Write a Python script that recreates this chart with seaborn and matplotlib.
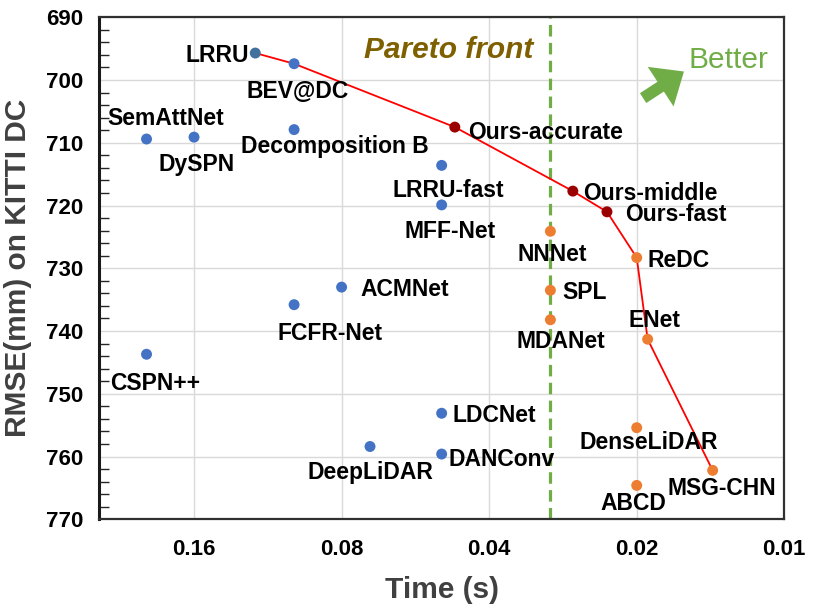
import matplotlib
matplotlib.use('Agg')
import pandas as pd
import matplotlib.pyplot as plt
import seaborn as sns
from matplotlib.ticker import MultipleLocator, NullLocator, FixedLocator

# DATA
prior_names = ['LRRU', 'BEV@DC', 'SemAttNet', 'DySPN', 'Decomposition B', 'ACMNet', 'FCFR-Net',
               'CSPN++', 'DeepLiDAR', 'LRRU-fast', 'MFF-Net', 'LDCNet', 'DANConv']
prior_time = [0.12, 0.10, 0.20, 0.16, 0.10, 0.08, 0.10, 0.20, 0.07, 0.05, 0.05, 0.05, 0.05]
prior_rmse = [695.7, 697.4, 709.4, 709.1, 707.9, 733.0, 735.8, 743.7, 758.4, 713.6, 719.9, 753.1, 759.6]

fast_names = ['NNNet', 'SPL', 'MDANet', 'ReDC', 'ENet', 'DenseLiDAR', 'ABCD', 'MSG-CHN']
fast_time = [0.03, 0.03, 0.03, 0.02, 0.019, 0.02, 0.02, 0.014]
fast_rmse = [724.1, 733.5, 738.2, 728.3, 741.3, 755.4, 764.6, 762.2]

ours_names = ['Ours-accurate', 'Ours-middle', 'Ours-fast']
ours_time = [0.047, 0.027, 0.023]
ours_rmse = [707.5, 717.7, 721.0]

pareto = ['LRRU', 'BEV@DC', 'Ours-accurate', 'Ours-middle', 'Ours-fast', 'ReDC', 'ENet', 'MSG-CHN']

x_ticks = [0.16, 0.08, 0.04, 0.02, 0.01]
x_ticklabels = ['0.16', '0.08', '0.04', '0.02', '0.01']
realtime_limit = 0.03

# label placement: (dx, dy) in pixels, horizontal alignment
label_pos = {
    'LRRU': (-6, 0, 'right'), 'BEV@DC': (4, -25, 'center'), 'SemAttNet': (19, 23, 'center'),
    'DySPN': (3, -25, 'center'), 'Decomposition B': (41, -14, 'center'), 'ACMNet': (19, 0, 'left'),
    'FCFR-Net': (36, -26, 'center'), 'CSPN++': (9, -27, 'center'), 'DeepLiDAR': (0, -23, 'center'),
    'LRRU-fast': (7, -23, 'center'), 'MFF-Net': (8, -24, 'center'), 'LDCNet': (11, 0, 'left'),
    'DANConv': (7, -3, 'left'), 'NNNet': (2, -21, 'center'), 'SPL': (12, 0, 'left'),
    'MDANet': (10, -19, 'center'), 'ReDC': (11, 0, 'left'), 'ENet': (7, 21, 'center'),
    'DenseLiDAR': (12, -12, 'center'), 'ABCD': (-3, -16, 'center'), 'MSG-CHN': (9, -16, 'center'),
    'Ours-accurate': (13, -3, 'left'), 'Ours-middle': (10, 0, 'left'), 'Ours-fast': (18, 0, 'left'),
}

df = pd.concat([
    pd.DataFrame({'name': prior_names, 'time': prior_time, 'rmse': prior_rmse, 'group': 'prior'}),
    pd.DataFrame({'name': fast_names, 'time': fast_time, 'rmse': fast_rmse, 'group': 'fast'}),
    pd.DataFrame({'name': ours_names, 'time': ours_time, 'rmse': ours_rmse, 'group': 'ours'}),
], ignore_index=True)
df.loc[df.name == 'LRRU', 'group'] = 'lrru'
front = df.set_index('name').loc[pareto].reset_index()

# STYLING
sns.set_theme(style='whitegrid')
plt.rcParams['font.family'] = ['Liberation Sans', 'DejaVu Sans']
plt.rcParams['font.weight'] = 'bold'

fig = plt.figure(figsize=(8.15, 6.15), dpi=100)
ax = fig.add_axes([0.1215, 0.1556, 0.8408, 0.8163])

sns.lineplot(data=front, x='time', y='rmse', sort=False, estimator=None, color='#FF0000',
             linewidth=1.3, ax=ax, zorder=2)
sns.scatterplot(data=df, x='time', y='rmse', hue='group',
                palette={'prior': '#4472C4', 'lrru': '#41719C', 'fast': '#ED7D31', 'ours': '#9B0000'},
                s=62, linewidth=0, legend=False, ax=ax, zorder=3)

for _, r in df.iterrows():
    dx, dy, ha = label_pos[r['name']]
    ax.annotate(r['name'], (r['time'], r['rmse']), xytext=(dx, dy), textcoords='offset pixels',
                ha=ha, va='center_baseline', fontsize=16.5, fontweight='bold', color='black', zorder=4)

ax.axvline(realtime_limit, color='#70AD47', linewidth=2.3, linestyle=(0, (3.6, 2.0)), zorder=1.5)

ax.set_xscale('log', base=2)
ax.set_xlim(0.25, 0.01)
ax.set_ylim(770, 690)
ax.xaxis.set_major_locator(FixedLocator(x_ticks))
ax.set_xticklabels(x_ticklabels)
ax.xaxis.set_minor_locator(NullLocator())
ax.yaxis.set_major_locator(MultipleLocator(10))
ax.yaxis.set_minor_locator(MultipleLocator(2))

ax.grid(True, which='major', color='#D9D9D9', linewidth=1.0)
ax.set_axisbelow(True)
ax.tick_params(axis='both', which='major', direction='in', labelsize=16, length=7, width=1.3,
               color='#262626', labelcolor='black')
ax.tick_params(axis='x', pad=14, length=9)
ax.tick_params(axis='y', pad=11)
ax.tick_params(axis='y', which='minor', direction='in', length=7, width=1.0, color='#262626', left=True)
for lbl in ax.get_xticklabels() + ax.get_yticklabels():
    lbl.set_fontweight('bold')

for side in ['top', 'right', 'bottom']:
    ax.spines[side].set_color('#303030')
    ax.spines[side].set_linewidth(1.6)
ax.spines['left'].set_color('#1a1a1a')
ax.spines['left'].set_linewidth(2.2)

ax.set_xlabel('Time (s)', fontsize=21.5, fontweight='bold', color='#404040', labelpad=12)
ax.set_ylabel('RMSE(mm) on KITTI DC', fontsize=21.5, fontweight='bold', color='#404040', labelpad=10)

ax.text(0.511, 0.941, 'Pareto front', transform=ax.transAxes, ha='center', va='center_baseline',
        fontsize=21.5, fontweight='bold', fontstyle='italic', color='#7F6000')
ax.text(0.918, 0.921, 'Better', transform=ax.transAxes, ha='center', va='center_baseline',
        fontsize=21.5, fontweight='normal', color='#70AD47')
ax.annotate('', xy=(0.8536, 0.892), xytext=(0.794, 0.839), xycoords='axes fraction',
            arrowprops=dict(arrowstyle='simple,head_length=1.0,head_width=1.7,tail_width=0.42',
                            color='#70AD47', mutation_scale=20, shrinkA=0, shrinkB=0, linewidth=0))

fig.savefig('out.png', dpi=100)
